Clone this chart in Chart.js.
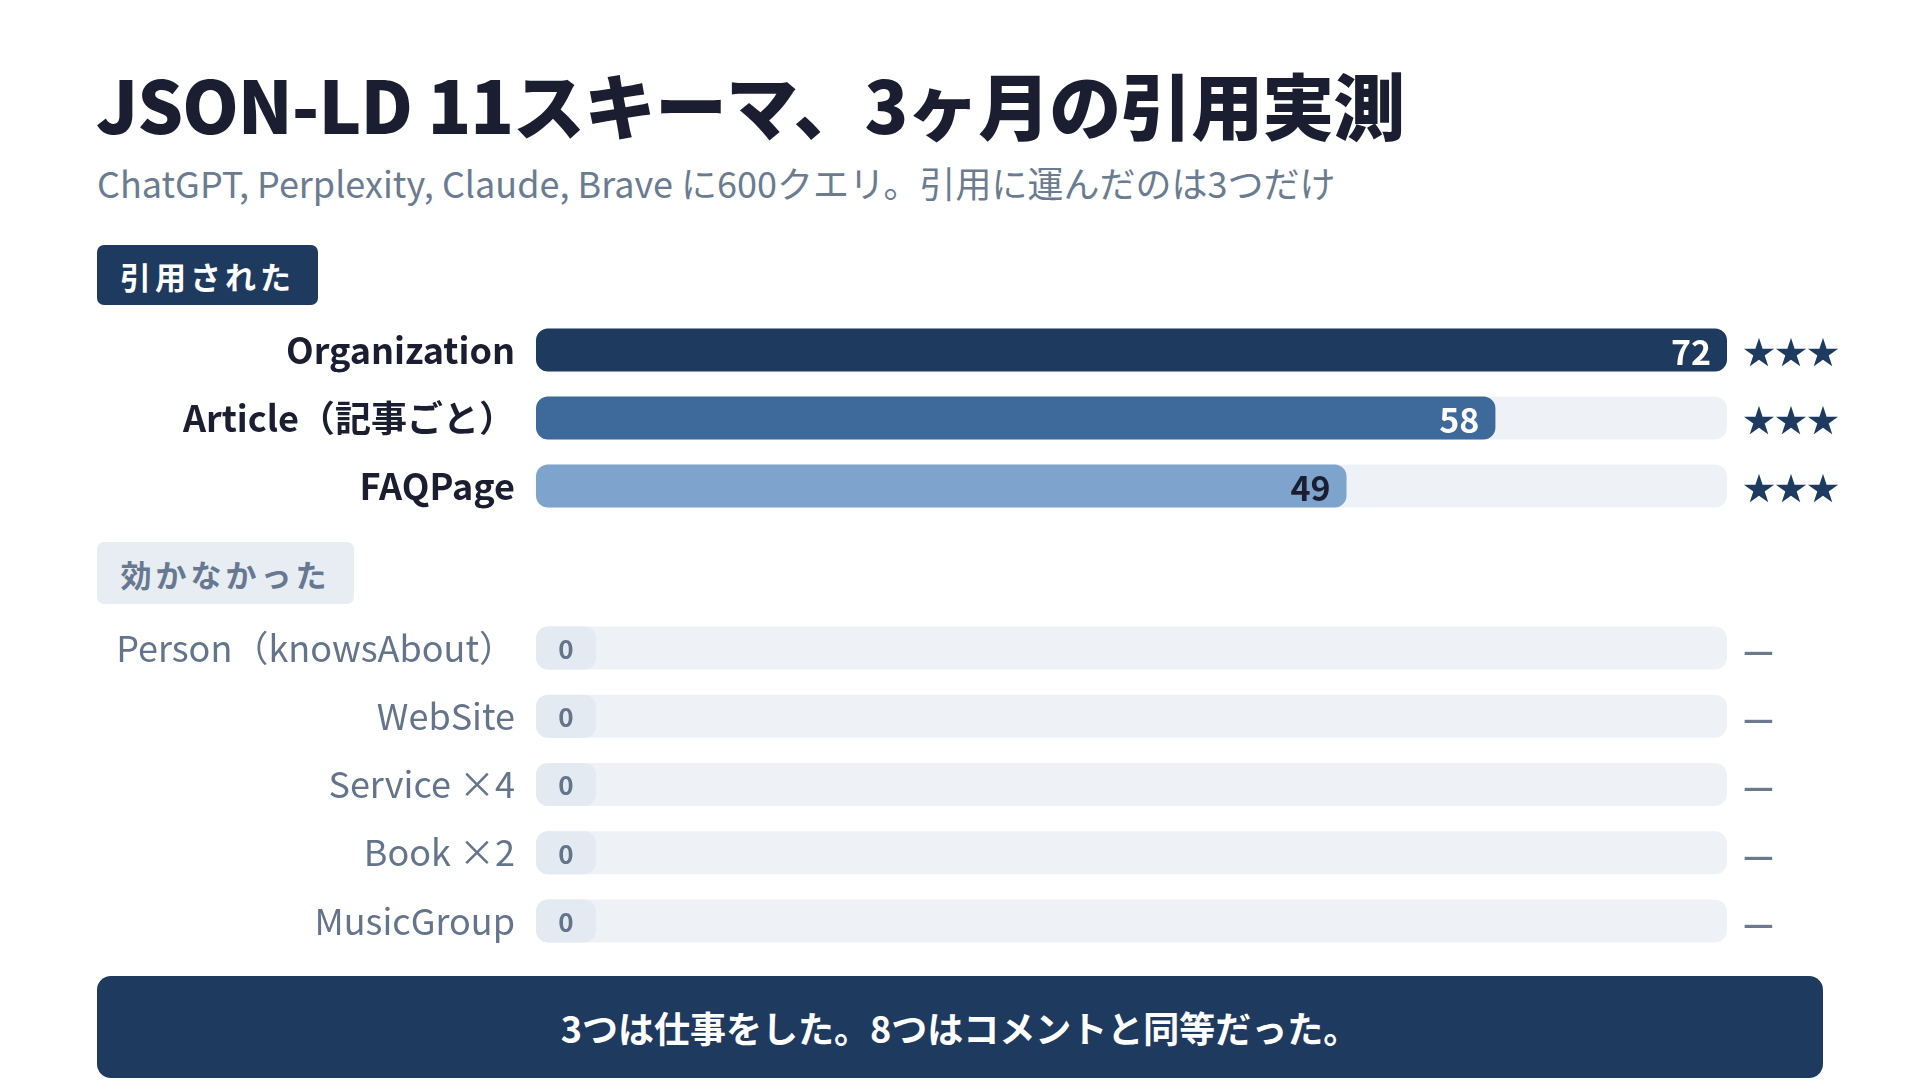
<!DOCTYPE html>
<html lang="ja">
<head>
<meta charset="utf-8">
<script src="https://cdn.jsdelivr.net/npm/chart.js@4.4.1/dist/chart.umd.min.js"></script>
<style>
  html, body { margin: 0; padding: 0; background: #fff; }
  body { width: 1920px; height: 1080px; position: relative; overflow: hidden;
         font-family: 'Noto Sans CJK JP', 'Noto Sans', sans-serif; }
  .title { position: absolute; left: 96px; top: 67px; font-size: 72px; font-weight: 900;
           line-height: 1; color: #1b1d30; letter-spacing: -1px; white-space: nowrap; }
  .subtitle { position: absolute; left: 97px; top: 161px; font-size: 36px; line-height: 1.2;
              color: #6b7b90; white-space: nowrap; }
  .badge { position: absolute; left: 97px; border-radius: 7px; font-size: 31px; font-weight: 700;
           letter-spacing: 4px; display: flex; align-items: center; justify-content: center; }
  .badge.on { top: 245px; width: 221px; height: 60px; background: #1f3a5f; color: #fff; }
  .badge.off { top: 542px; width: 257px; height: 62px; background: #e8edf3; color: #677891; }
  .chartbox { position: absolute; left: 0; width: 1920px; }
  .footer { position: absolute; left: 97px; top: 976px; width: 1726px; height: 102px;
            background: #1f3a5f; border-radius: 14px; color: #fff; font-size: 36px; font-weight: 700;
            display: flex; align-items: center; justify-content: center; }
</style>
</head>
<body>
<div class="title">JSON-LD 11スキーマ、3ヶ月の引用実測</div>
<div class="subtitle">ChatGPT, Perplexity, Claude, Brave に600クエリ。引用に運んだのは3つだけ</div>
<div class="badge on">引用された</div>
<div class="chartbox" style="top:316px;height:204px;"><canvas id="citedChart"></canvas></div>
<div class="badge off">効かなかった</div>
<div class="chartbox" style="top:614px;height:341px;"><canvas id="noneChart"></canvas></div>
<div class="footer">3つは仕事をした。8つはコメントと同等だった。</div>

<script>
// Cited schemas
const citedLabels = ['Organization', 'Article（記事ごと）', 'FAQPage'];
const citedValues = [72, 58, 49];
const citedMarks = ['★★★', '★★★', '★★★'];

// Schemas that got nothing
const noneLabels = ['Person（knowsAbout）', 'WebSite', 'Service ×4', 'Book ×2', 'MusicGroup'];
const noneValues = [0, 0, 0, 0, 0];
const noneMarks = ['—', '—', '—', '—', '—'];

const scaleMax = 72;

const citedColors = ['#1f3a5f', '#3d6a9a', '#7ea3cc'];
const citedTextColors = ['#ffffff', '#ffffff', '#1b1d30'];

Chart.defaults.font.family = "'Noto Sans CJK JP', 'Noto Sans', sans-serif";

// draws value labels, the little pill for zeros and the marks on the right
const rowDecor = {
  id: 'rowDecor',
  afterDatasetsDraw(chart, args, opts) {
    const ctx = chart.ctx;
    const x = chart.scales.x;
    const meta = chart.getDatasetMeta(0);
    const values = chart.data.datasets[0].data;
    const x0 = x.getPixelForValue(0);
    meta.data.forEach((bar, i) => {
      const v = values[i];
      const yc = bar.y;
      ctx.save();
      ctx.textBaseline = 'middle';
      if (v === 0) {
        ctx.fillStyle = '#e4eaf1';
        ctx.beginPath();
        ctx.roundRect(x0, yc - bar.height / 2, 60, bar.height, 12);
        ctx.fill();
        ctx.fillStyle = '#64748b';
        ctx.font = "700 26px 'Noto Sans CJK JP'";
        ctx.textAlign = 'center';
        ctx.fillText(String(v), x0 + 30, yc + 1);
      } else {
        ctx.fillStyle = opts.textColors[i];
        ctx.font = "700 34px 'Noto Sans CJK JP'";
        ctx.textAlign = 'right';
        ctx.fillText(String(v), bar.x - 16, yc + 2);
      }
      ctx.fillStyle = opts.markColor;
      ctx.font = opts.markFont;
      ctx.textAlign = 'left';
      ctx.fillText(opts.marks[i], chart.chartArea.right + 16, yc + 2);
      ctx.restore();
    });
  }
};

function makeChart(id, labels, values, colors, tickFont, tickColor, decor) {
  const barStyle = {
    borderRadius: 12,
    borderSkipped: false,
    grouped: false,
    categoryPercentage: 1,
    barPercentage: 0.63
  };
  return new Chart(document.getElementById(id).getContext('2d'), {
    type: 'bar',
    data: {
      labels: labels,
      datasets: [
        Object.assign({ data: values, backgroundColor: colors }, barStyle),
        Object.assign({ data: labels.map(() => scaleMax), backgroundColor: '#eef2f7' }, barStyle)
      ]
    },
    options: {
      indexAxis: 'y',
      responsive: true,
      maintainAspectRatio: false,
      animation: false,
      layout: { padding: { left: 0, right: 193, top: 0, bottom: 0 } },
      scales: {
        x: { display: false, min: 0, max: scaleMax },
        y: {
          grid: { display: false, drawTicks: false },
          border: { display: false },
          ticks: { font: tickFont, color: tickColor, padding: 21 },
          afterFit: (scale) => {
            scale.width = 536;
            scale.paddingTop = 0;
            scale.paddingBottom = 0;
          }
        }
      },
      plugins: {
        legend: { display: false },
        tooltip: { enabled: false },
        rowDecor: decor
      }
    },
    plugins: [rowDecor]
  });
}

makeChart('citedChart', citedLabels, citedValues, citedColors,
  { size: 36, weight: '700' }, '#1b1d30',
  { marks: citedMarks, textColors: citedTextColors, markColor: '#1f3a5f', markFont: "32px 'Noto Sans CJK JP'" });

makeChart('noneChart', noneLabels, noneValues, '#e4eaf1',
  { size: 36, weight: '400' }, '#64748b',
  { marks: noneMarks, textColors: [], markColor: '#6b7a8f', markFont: "700 34px 'Noto Sans CJK JP'" });
</script>
</body>
</html>
